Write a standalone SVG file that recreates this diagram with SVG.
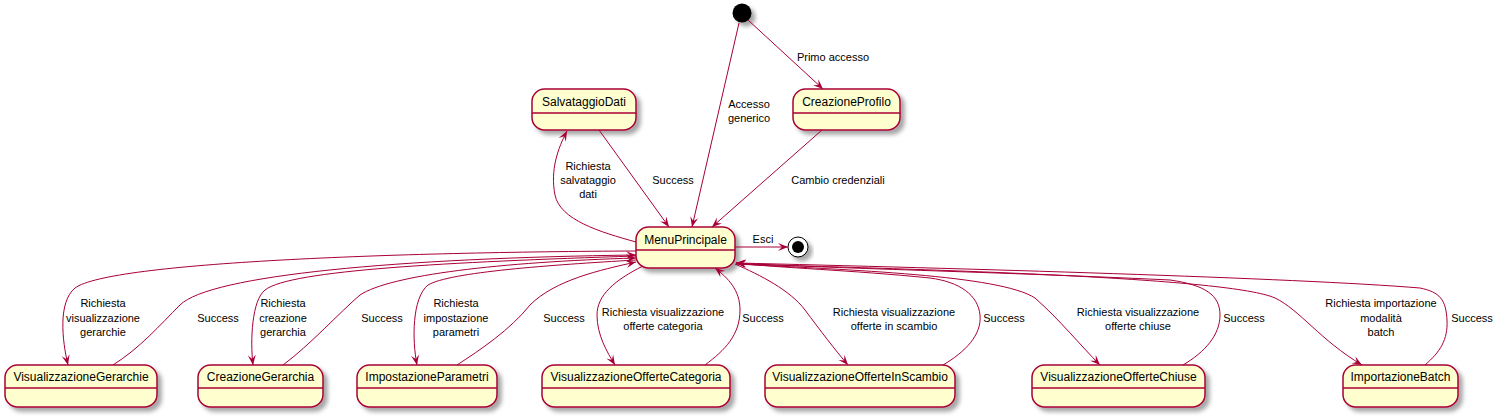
<svg xmlns="http://www.w3.org/2000/svg" width="1499" height="419" viewBox="0 0 1499 419">
<style>
.st rect{fill:#FEFECE;stroke:#A80036;stroke-width:1.5;}
.st line{stroke:#A80036;stroke-width:1.5;}
.st text{font-family:"Liberation Sans",Arial,sans-serif;font-size:12px;fill:#000;text-anchor:middle;}
#edges path,#edges line{fill:none;stroke:#A80036;stroke-width:1;marker-end:url(#ah);}
.lbl{font-family:"Liberation Sans",Arial,sans-serif;font-size:11px;fill:#000;text-anchor:middle;}
</style>
<defs>
<filter id="sh" x="-20%" y="-20%" width="150%" height="160%">
<feDropShadow dx="4" dy="4" stdDeviation="2" flood-color="#000" flood-opacity="0.35"/>
</filter>
<marker id="ah" viewBox="0 0 10 10" refX="10" refY="5" markerWidth="10" markerHeight="10" orient="auto" markerUnits="userSpaceOnUse">
<path d="M0,1 L10,5 L0,9 L4,5 Z" fill="#A80036"/>
</marker>
</defs>
<rect width="1499" height="419" fill="#FFFFFF"/>

<g id="initial"><circle cx="742" cy="13" r="9.5" fill="#000" filter="url(#sh)"/></g>
<g id="final"><circle cx="798" cy="247" r="10" fill="#FFF" stroke="#000" stroke-width="1" filter="url(#sh)"/><circle cx="798" cy="247" r="6" fill="#000"/></g>

<g id="SalvataggioDati" class="st"><rect x="532" y="89" width="104" height="41" rx="12.5" filter="url(#sh)"/><line x1="532" y1="113" x2="636" y2="113"/><text x="584" y="106">SalvataggioDati</text></g>
<g id="CreazioneProfilo" class="st"><rect x="793" y="89" width="107" height="41" rx="12.5" filter="url(#sh)"/><line x1="793" y1="113" x2="900" y2="113"/><text x="846.5" y="106">CreazioneProfilo</text></g>
<g id="MenuPrincipale" class="st"><rect x="636" y="227" width="99" height="41" rx="12.5" filter="url(#sh)"/><line x1="636" y1="250" x2="735" y2="250"/><text x="685.5" y="244">MenuPrincipale</text></g>
<g id="VisualizzazioneGerarchie" class="st"><rect x="5" y="365" width="152" height="42" rx="12.5" filter="url(#sh)"/><line x1="5" y1="388" x2="157" y2="388"/><text x="81" y="381">VisualizzazioneGerarchie</text></g>
<g id="CreazioneGerarchia" class="st"><rect x="198" y="365" width="125" height="42" rx="12.5" filter="url(#sh)"/><line x1="198" y1="388" x2="323" y2="388"/><text x="260.5" y="381">CreazioneGerarchia</text></g>
<g id="ImpostazioneParametri" class="st"><rect x="357" y="365" width="140" height="42" rx="12.5" filter="url(#sh)"/><line x1="357" y1="388" x2="497" y2="388"/><text x="427" y="381">ImpostazioneParametri</text></g>
<g id="VisualizzazioneOfferteCategoria" class="st"><rect x="542" y="365" width="188" height="42" rx="12.5" filter="url(#sh)"/><line x1="542" y1="388" x2="730" y2="388"/><text x="636" y="381">VisualizzazioneOfferteCategoria</text></g>
<g id="VisualizzazioneOfferteInScambio" class="st"><rect x="765" y="365" width="190" height="42" rx="12.5" filter="url(#sh)"/><line x1="765" y1="388" x2="955" y2="388"/><text x="860" y="381">VisualizzazioneOfferteInScambio</text></g>
<g id="VisualizzazioneOfferteChiuse" class="st"><rect x="1032" y="365" width="173" height="42" rx="12.5" filter="url(#sh)"/><line x1="1032" y1="388" x2="1205" y2="388"/><text x="1118.5" y="381">VisualizzazioneOfferteChiuse</text></g>
<g id="ImportazioneBatch" class="st"><rect x="1343" y="365" width="115" height="42" rx="12.5" filter="url(#sh)"/><line x1="1343" y1="388" x2="1458" y2="388"/><text x="1400.5" y="381">ImportazioneBatch</text></g>

<g id="edges">
<line x1="748" y1="20" x2="823" y2="89"/>
<line x1="739" y1="23" x2="692" y2="227"/>
<line x1="599" y1="130" x2="669" y2="227"/>
<line x1="822" y1="130" x2="712" y2="227"/>
<path d="M636,242 C600,232 560,220 555,195 C550,170 558,148 567,131"/>
<line x1="735" y1="247" x2="788" y2="247"/>
<path d="M636,251 C400,252 110,262 75,288 C58,302 62,340 68,365"/>
<path d="M113,365 C140,348 160,325 180,305 C210,275 400,258 636,255"/>
<path d="M636,256 C450,262 290,270 265,290 C252,300 250,340 253,365"/>
<path d="M283,365 C310,345 340,312 360,295 C390,275 500,262 636,258"/>
<path d="M636,260 C550,265 450,272 428,285 C412,298 412,340 417,365"/>
<path d="M457,365 C480,350 510,330 530,305 C555,280 600,270 636,262"/>
<path d="M643,266 C615,280 597,295 597,315 C597,335 607,352 615,365"/>
<path d="M705,365 C725,350 740,335 740,310 C740,290 728,278 715,268"/>
<path d="M735,264 C760,275 790,290 805,310 C820,330 835,350 848,365"/>
<path d="M943,365 C965,352 982,335 980,315 C978,295 960,282 930,278 C850,270 780,268 736,263"/>
<path d="M736,264 C850,270 1000,275 1035,298 C1060,320 1080,345 1100,365"/>
<path d="M1183,365 C1205,352 1220,335 1220,315 C1220,295 1205,285 1170,280 C1000,272 820,268 736,263"/>
<path d="M736,264 C950,270 1230,278 1275,298 C1300,310 1320,340 1362,365"/>
<path d="M1425,365 C1440,352 1448,340 1447,320 C1446,300 1440,292 1420,288 C1300,278 950,268 736,263"/>
</g>

<g id="labels">
<text class="lbl" x="833" y="61">Primo accesso</text>
<text class="lbl" x="749" y="108">Accesso</text>
<text class="lbl" x="749" y="122">generico</text>
<text class="lbl" x="588" y="170">Richiesta</text>
<text class="lbl" x="588" y="184">salvataggio</text>
<text class="lbl" x="588" y="198">dati</text>
<text class="lbl" x="673" y="184">Success</text>
<text class="lbl" x="838" y="184">Cambio credenziali</text>
<text class="lbl" x="763" y="243">Esci</text>
<text class="lbl" x="103" y="307">Richiesta</text>
<text class="lbl" x="103" y="322">visualizzazione</text>
<text class="lbl" x="103" y="336">gerarchie</text>
<text class="lbl" x="218" y="322">Success</text>
<text class="lbl" x="283" y="307">Richiesta</text>
<text class="lbl" x="283" y="322">creazione</text>
<text class="lbl" x="283" y="336">gerarchia</text>
<text class="lbl" x="382" y="322">Success</text>
<text class="lbl" x="456" y="307">Richiesta</text>
<text class="lbl" x="456" y="322">impostazione</text>
<text class="lbl" x="456" y="336">parametri</text>
<text class="lbl" x="564" y="322">Success</text>
<text class="lbl" x="663" y="316">Richiesta visualizzazione</text>
<text class="lbl" x="663" y="330">offerte categoria</text>
<text class="lbl" x="763" y="322">Success</text>
<text class="lbl" x="894" y="316">Richiesta visualizzazione</text>
<text class="lbl" x="894" y="330">offerte in scambio</text>
<text class="lbl" x="1004" y="322">Success</text>
<text class="lbl" x="1138" y="316">Richiesta visualizzazione</text>
<text class="lbl" x="1138" y="330">offerte chiuse</text>
<text class="lbl" x="1244" y="322">Success</text>
<text class="lbl" x="1381" y="307">Richiesta importazione</text>
<text class="lbl" x="1381" y="322">modalità</text>
<text class="lbl" x="1381" y="336">batch</text>
<text class="lbl" x="1472" y="322">Success</text>
</g>
</svg>
